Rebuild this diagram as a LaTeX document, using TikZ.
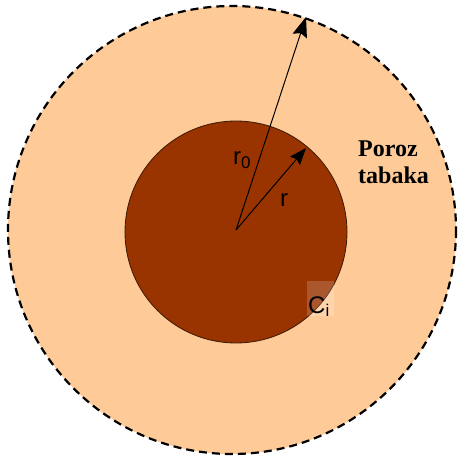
\documentclass[tikz,border=0pt]{standalone}
\usepackage{fontspec}
\setmainfont{Liberation Serif}
\newfontfamily\labelfont{Liberation Sans}
\usetikzlibrary{arrows.meta}
\definecolor{peach}{HTML}{FECB98}
\definecolor{core}{HTML}{993300}
\definecolor{coreedge}{HTML}{3A1A05}
\tikzset{
  radius arrow/.style={line width=1pt, -{Stealth[length=20pt,width=15pt,inset=3pt]}},
  small arrow/.style={line width=1pt, -{Stealth[length=17pt,width=13pt,inset=2.5pt]}},
  sym/.style={font=\labelfont\fontsize{24}{26}\selectfont, inner sep=0pt},
  serif label/.style={font=\bfseries\fontsize{24}{27}\selectfont, align=left, inner sep=0pt}
}
\begin{document}
\begin{tikzpicture}[x=1pt,y=-1pt]
\useasboundingbox (0,0) rectangle (459,462);
\fill[white] (0,0) rectangle (459,462);
% outer porous layer
\fill[peach] (232,230) circle (224);
\draw[line width=2.2pt, dash pattern=on 8pt off 5pt] (232,230) circle (224);
% core
\fill[core] (236,232) circle (111);
\draw[coreedge, line width=0.8pt] (236,232) circle (111);
% patch behind Ci
\fill[white, opacity=0.18] (307,281) rectangle (334,316);
% arrows
\coordinate (o) at (236,230);
\coordinate (tipR0) at (306,17);
\coordinate (tipR) at (306,148);
\draw[radius arrow] (o) -- (tipR0);
\draw[small arrow] (o) -- (tipR);
% labels
\node[sym, anchor=base west] (r0) at (233,165) {r\raisebox{-4pt}{\fontsize{17}{17}\selectfont 0}};
\node[sym, anchor=base west] (r) at (280,206) {r};
\node[sym, anchor=base west] (ci) at (308,313) {C\raisebox{-3pt}{\fontsize{17}{17}\selectfont i}};
\node[serif label, anchor=base west] (poroz) at (358,183) {Poroz\\tabaka};
\end{tikzpicture}
\end{document}
